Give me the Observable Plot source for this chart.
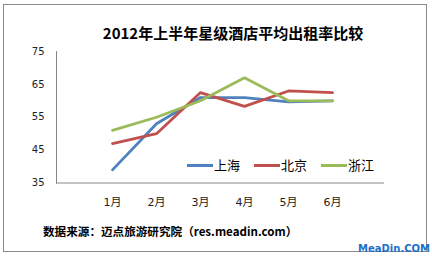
<!DOCTYPE html>
<html><head><meta charset="utf-8">
<script src="https://cdn.jsdelivr.net/npm/d3@7"></script>
<script src="https://cdn.jsdelivr.net/npm/@observablehq/plot@0.6"></script>
<style>
body{margin:0;background:#fff;}
#wrap{position:relative;width:432px;height:256px;overflow:hidden;font-family:"DejaVu Sans","Noto Sans CJK SC",sans-serif;background:#fff;}
#frame{position:absolute;left:3px;top:4px;width:424px;height:248px;border:1px solid #8a8a8a;box-sizing:border-box;}
#chart{position:absolute;left:0;top:0;}
#title{position:absolute;left:0;width:466px;top:24px;text-align:center;font:bold 15px "Noto Sans CJK SC",sans-serif;color:#000;line-height:18px;}
#caption{position:absolute;left:43px;top:222px;font:bold 11.6px "Noto Sans CJK SC","DejaVu Sans",sans-serif;color:#000;line-height:18px;white-space:nowrap;}
#brand{position:absolute;right:2px;top:243px;font:bold 10px "DejaVu Sans",sans-serif;color:#1f6fc9;line-height:12px;}
#legend{position:absolute;left:187px;top:156px;display:flex;align-items:center;font:13px "Noto Sans CJK SC",sans-serif;color:#000;line-height:18px;}
.item{display:flex;align-items:center;margin-right:14px;}
.sw{display:inline-block;width:26px;height:3px;margin-right:1px;}
</style>
</head><body>
<div id="wrap">
  <div id="frame"></div>
  <div id="chart"></div>
  <div id="title">2012年上半年星级酒店平均出租率比较</div>
  <div id="legend"></div>
  <div id="caption">数据来源：迈点旅游研究院（res.meadin.com）</div>
  <div id="brand">MeaDin.COM</div>
</div>
<script>
const months = ["1月","2月","3月","4月","5月","6月"];
const seriesNames = ["上海","北京","浙江"];
const shanghai = [39, 53, 61, 61, 59.7, 60];
const beijing = [47, 50, 62.5, 58.3, 63, 62.5];
const zhejiang = [51, 55, 60, 67, 60, 60];
const yTicks = [35, 45, 55, 65, 75];
const colors = ["#4F81BD", "#C0504D", "#9BBB59"];

const seriesValues = [shanghai, beijing, zhejiang];
const rows = [];
seriesNames.forEach((s, i) => months.forEach((m, j) => rows.push({series: s, month: m, value: seriesValues[i][j]})));

const chart = Plot.plot({
  width: 432,
  height: 256,
  marginLeft: 56,
  marginRight: 48,
  marginTop: 51,
  marginBottom: 73.5,
  style: {background: "transparent", fontFamily: "'DejaVu Sans','Noto Sans CJK SC',sans-serif"},
  x: {type: "point", domain: months, range: [88, 356]},
  y: {domain: [35, 75]},
  color: {domain: seriesNames, range: colors},
  marks: [
    Plot.frame({anchor: "left", stroke: "#868686"}),
    Plot.ruleY([35], {stroke: "#868686"}),
    Plot.axisY({ticks: yTicks, tickSize: 0, tickPadding: 12, fontSize: 10, fill: "#222", label: null}),
    Plot.axisX({tickSize: 0, tickPadding: 15, fontSize: 11, fill: "#222", label: null}),
    Plot.lineY(rows, {x: "month", y: "value", z: "series", stroke: "series", strokeWidth: 2.8, strokeLinejoin: "miter", curve: "linear"})
  ]
});
document.getElementById("chart").appendChild(chart);

const legend = document.getElementById("legend");
seriesNames.forEach((s, i) => {
  const it = document.createElement("div");
  it.className = "item";
  const sw = document.createElement("span");
  sw.className = "sw";
  sw.style.background = colors[i];
  it.appendChild(sw);
  const t = document.createElement("span");
  t.textContent = s;
  it.appendChild(t);
  legend.appendChild(it);
});
</script>
</body></html>
